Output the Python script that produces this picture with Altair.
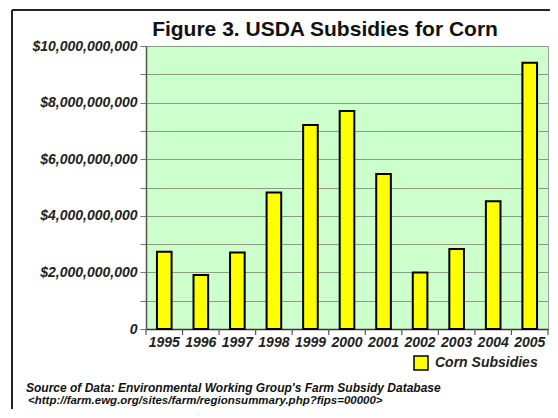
import altair as alt
import pandas as pd

years = ["1995", "1996", "1997", "1998", "1999", "2000", "2001", "2002", "2003", "2004", "2005"]
subsidies = [2.73e9, 1.91e9, 2.70e9, 4.82e9, 7.21e9, 7.70e9, 5.48e9, 2.00e9, 2.83e9, 4.51e9, 9.41e9]
series_name = "Corn Subsidies"
y_ticks = [i * 1e9 for i in range(11)]

title_text = "Figure 3. USDA Subsidies for Corn"
source_line1 = "Source of Data: Environmental Working Group's Farm Subsidy Database"
source_line2 = "<http://farm.ewg.org/sites/farm/regionsummary.php?fips=00000>"

df = pd.DataFrame({"year": years, "value": subsidies, "series": [series_name] * len(years)})
one = pd.DataFrame({"a": [0]})

W, H = 402, 283
FONT = "Liberation Sans"

x_axis = alt.Axis(
    title=None, labelAngle=0, ticks=False, domain=True, domainColor="#333333",
    domainWidth=1.5, labelFont=FONT, labelFontSize=14, labelFontWeight="bold",
    labelFontStyle="italic", labelColor="#222222", labelPadding=6,
)
x_scale = alt.Scale(paddingInner=0, paddingOuter=0)

y_enc = alt.Y(
    "value:Q",
    scale=alt.Scale(domain=[0, 1e10], nice=False),
    axis=alt.Axis(
        title=None, values=y_ticks,
        labelExpr="datum.value == 0 ? '0' : (datum.value % 2000000000 == 0 ? '$' + format(datum.value, ',') : '')",
        grid=True, gridColor="#8c9a8c", gridWidth=1.2,
        tickColor="#777777", tickSize=6, domainColor="#555555", domainWidth=1.5,
        labelFont=FONT, labelFontSize=14, labelFontWeight="bold", labelFontStyle="italic",
        labelColor="#222222", labelPadding=3,
    ),
)

bars = alt.Chart(df).mark_bar(
    width=alt.RelativeBandSize(0.4), stroke="black", strokeWidth=2
).encode(
    x=alt.X("year:O", scale=x_scale, axis=x_axis),
    y=y_enc,
    color=alt.Color(
        "series:N",
        scale=alt.Scale(range=["#ffff00"]),
        legend=alt.Legend(
            title=None, orient="none", legendX=267, legendY=309,
            symbolType="square", symbolSize=196, symbolStrokeColor="black",
            symbolStrokeWidth=1.5, symbolFillColor="#ffff00",
            labelFont=FONT, labelFontSize=14, labelFontWeight="bold",
            labelFontStyle="italic", labelColor="#222222", labelOffset=6,
        ),
    ),
)

xticks = alt.Chart(df).mark_rule(color="#555555", strokeWidth=1.2).encode(
    x=alt.X("year:O", bandPosition=0, scale=x_scale, axis=x_axis),
    y=alt.value(H), y2=alt.value(H + 6),
)
end_tick = alt.Chart(one).mark_rule(color="#555555", strokeWidth=1.2).encode(
    x=alt.value(W), y=alt.value(H), y2=alt.value(H + 6)
)

frame_left = alt.Chart(one).mark_rule(color="#222222", strokeWidth=2).encode(
    x=alt.value(-134), y=alt.value(-36), y2=alt.value(H + 100)
)
frame_top = alt.Chart(one).mark_rule(color="#222222", strokeWidth=2).encode(
    x=alt.value(-134), x2=alt.value(W + 20), y=alt.value(-36)
)

title = alt.Chart(one).mark_text(
    text=title_text, align="center", baseline="alphabetic", font=FONT,
    fontSize=21, fontWeight="bold", color="#111111"
).encode(x=alt.value(179), y=alt.value(-10.5))

src1 = alt.Chart(one).mark_text(
    text=source_line1, align="left", baseline="alphabetic", font=FONT,
    fontSize=12, fontWeight="bold", fontStyle="italic", color="#111111"
).encode(x=alt.value(-120), y=alt.value(346))
src2 = alt.Chart(one).mark_text(
    text=source_line2, align="left", baseline="alphabetic", font=FONT,
    fontSize=11.5, fontWeight="bold", fontStyle="italic", color="#111111"
).encode(x=alt.value(-118), y=alt.value(358))

chart = alt.layer(bars, xticks, end_tick, frame_left, frame_top, title, src1, src2).properties(
    width=W, height=H,
    autosize=alt.AutoSizeParams(type="none"),
    padding={"left": 138, "top": 38, "right": 2, "bottom": 80},
    background="white",
).configure_view(fill="#ccffcc", stroke="#999999", strokeWidth=1)

chart.save("out.html", embed_options={"renderer": "svg", "actions": False})
